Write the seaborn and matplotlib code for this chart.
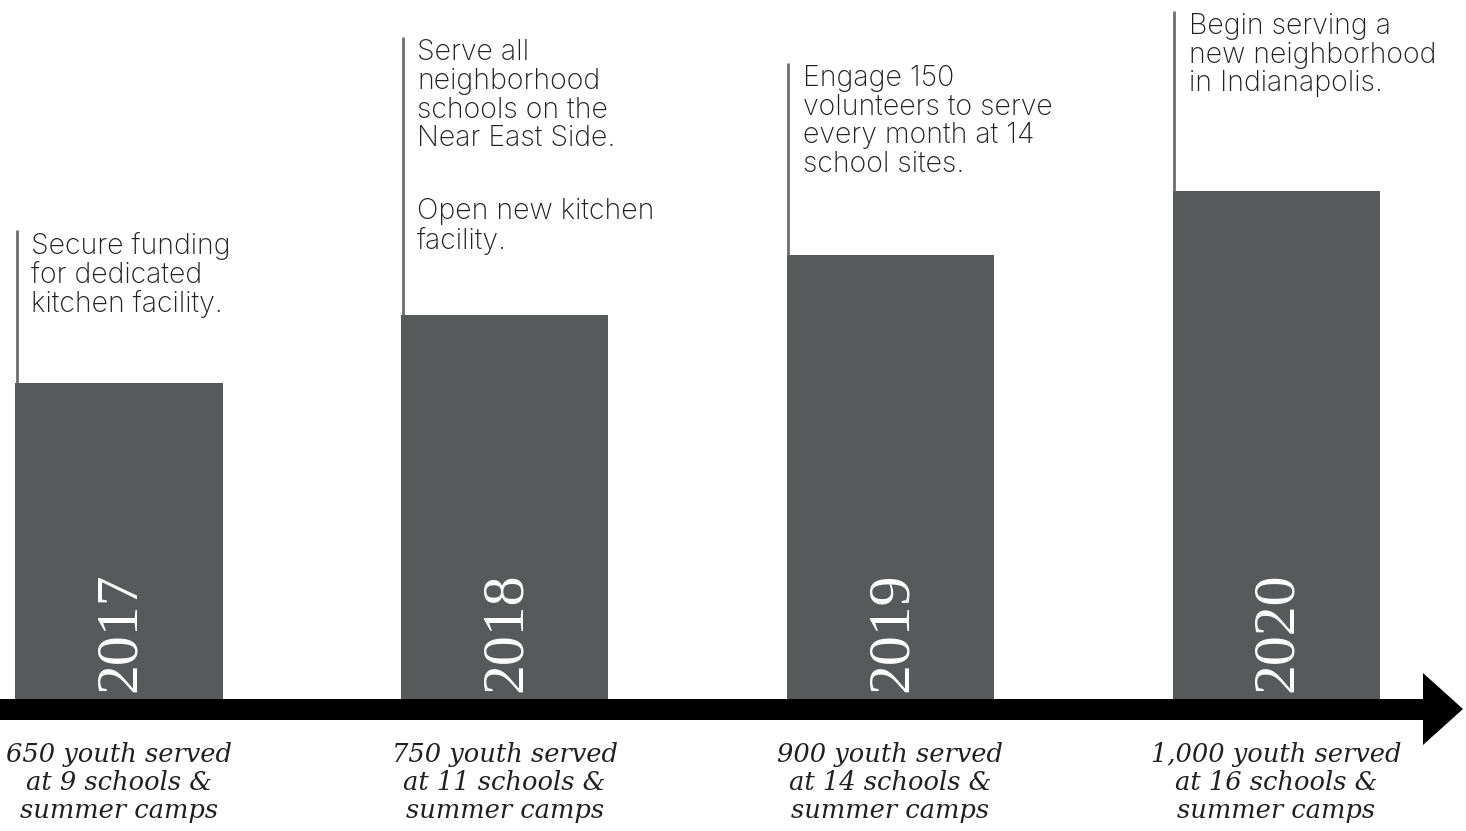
import numpy as np
import pandas as pd
import seaborn as sns
import matplotlib.pyplot as plt

sns.set_theme(style="white")

# values (bar heights in px above the timeline)
years = ["2017", "2018", "2019", "2020"]
bar_heights = [316, 384, 444, 508]
line_tops = [469, 662, 636, 688]
goals = [
    "Secure funding\nfor dedicated\nkitchen facility.",
    "Serve all\nneighborhood\nschools on the\nNear East Side.",
    "Engage 150\nvolunteers to serve\nevery month at 14\nschool sites.",
    "Begin serving a\nnew neighborhood\nin Indianapolis.",
]
extra_goal = "Open new kitchen\nfacility."
served = [
    "650 youth served\nat 9 schools &\nsummer camps",
    "750 youth served\nat 11 schools &\nsummer camps",
    "900 youth served\nat 14 schools &\nsummer camps",
    "1,000 youth served\nat 16 schools &\nsummer camps",
]

df = pd.DataFrame({"year": years, "height": bar_heights})

W, H = 1466, 831
step = 385.7
x0 = 119
base = 699

fig = plt.figure(figsize=(W / 100, H / 100), dpi=100)
ax = fig.add_axes([0, 0, 1, 1])

bar_w = 0.537
sns.barplot(data=df, x="year", y="height", color="#58595b", width=bar_w,
            saturation=1, linewidth=0, ax=ax)

ax.set_xlim(-x0 / step, (W - x0) / step)
ax.set_ylim(base - H, base)
ax.axis("off")

def px(x):
    return (x - x0) / step

def py(y):
    return base - y

# timeline arrow
arrow_x = [px(0), px(1423), px(1423), px(1463), px(1423), px(1423), px(0)]
arrow_y = [py(699), py(699), py(673), py(709), py(745), py(720), py(720)]
ax.fill(arrow_x, arrow_y, color="black", lw=0, zorder=3)

sans = ["Inter", "DejaVu Sans"]
serif = ["DejaVu Serif"]
for i, (yr, h, top, goal, txt) in enumerate(zip(years, bar_heights, line_tops, goals, served)):
    left = i - bar_w / 2
    ax.plot([left + 1.5 / step, left + 1.5 / step], [h, top], color="#6d6e71", lw=2, solid_capstyle="butt")
    ax.text(left + 16 / step, top - 2, goal, ha="left", va="top", fontsize=20.5,
            family=sans, fontweight="light", color="#231f20", linespacing=1.08)
    ax.text(i + 2 / step, 7, yr, rotation=90, ha="center", va="bottom", fontsize=43,
            family=["Liberation Serif"], color="white")
    ax.text(i, py(742), txt, ha="center", va="top", fontsize=18.5, family=serif,
            style="italic", color="#231f20", linespacing=1.16)

ax.text(1 - bar_w / 2 + 16 / step, py(198), extra_goal, ha="left", va="top", fontsize=20.5,
        family=sans, fontweight="light", color="#231f20", linespacing=1.08)

fig.savefig("out.png", dpi=100)
